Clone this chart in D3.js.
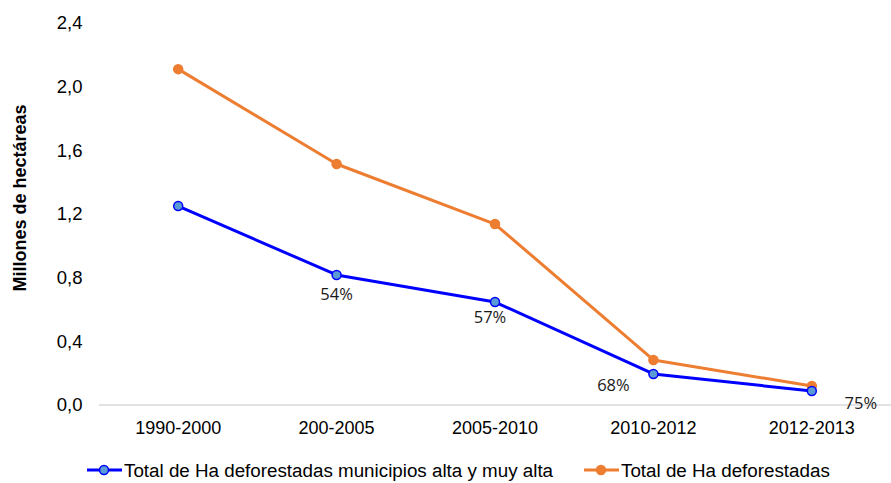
<!DOCTYPE html>
<html><head><meta charset="utf-8">
<script src="https://cdn.jsdelivr.net/npm/d3@7"></script>
<style>body{margin:0;background:#fff}svg{display:block}</style>
</head><body>
<svg id="c" width="891" height="483"></svg>
<script>
const categories = ["1990-2000","200-2005","2005-2010","2010-2012","2012-2013"];
const seriesNames = ["Total de Ha deforestadas municipios alta y muy alta","Total de Ha deforestadas"];
const altaValues = [1.25, 0.817, 0.647, 0.195, 0.088];
const totalValues = [2.11, 1.514, 1.137, 0.283, 0.119];
const pctLabels = ["", "54%", "57%", "68%", "75%"];
const yTicks = [0, 0.4, 0.8, 1.2, 1.6, 2.0, 2.4];

const svg = d3.select("#c");
const m = {l:99, r:891, t:23, b:405};
const x = d3.scaleBand().domain(categories).range([m.l, m.r]);
const y = d3.scaleLinear().domain([0, 2.4]).range([m.b, m.t]);
const fmt = d => d3.format(".1f")(d).replace(".", ",");
const FF = "Liberation Sans, Arial, sans-serif";

// y tick labels
svg.append("g").selectAll("text").data(yTicks).join("text")
  .attr("x", 82.5).attr("y", d => y(d)).attr("dy", "0.35em")
  .attr("text-anchor", "end").attr("font-family", FF)
  .attr("font-size", 18.5).attr("fill", "#000").text(fmt);

// baseline
svg.append("line").attr("x1", m.l).attr("x2", m.r).attr("y1", y(0)).attr("y2", y(0))
  .attr("stroke", "#d9d9d9").attr("stroke-width", 1.5);

// x axis labels
svg.append("g").selectAll("text").data(categories).join("text")
  .attr("x", d => x(d) + x.bandwidth()/2).attr("y", 428).attr("dy", "0.35em")
  .attr("text-anchor", "middle").attr("font-family", FF)
  .attr("font-size", 18).attr("fill", "#000").text(d => d);

// y title
svg.append("text").attr("transform", "translate(20,198) rotate(-90)")
  .attr("text-anchor", "middle").attr("dy", "0.35em").attr("font-family", FF)
  .attr("font-size", 18).attr("font-weight", "bold").text("Millones de hectáreas");

const cx = d => x(d) + x.bandwidth()/2;
const line = d3.line().x(d => cx(d.c)).y(d => y(d.v));

function drawSeries(vals, color, fill) {
  const data = categories.map((c, i) => ({c, v: vals[i]}));
  svg.append("path").datum(data).attr("d", line).attr("fill", "none")
    .attr("stroke", color).attr("stroke-width", 3).attr("stroke-linejoin", "round");
  svg.append("g").selectAll("circle").data(data).join("circle")
    .attr("cx", d => cx(d.c)).attr("cy", d => y(d.v)).attr("r", 4.5)
    .attr("fill", fill).attr("stroke", color).attr("stroke-width", 1.5);
}
drawSeries(totalValues, "#ED7D31", "#ED7D31");
drawSeries(altaValues, "#0000FF", "#5B9BD5");

// percentage labels
const lblOff = [[0,0],[0,19],[-5,15],[-40,11],[49,12]];
svg.append("g").selectAll("text").data(categories.map((c,i)=>({c,i}))).join("text")
  .attr("x", d => cx(d.c) + lblOff[d.i][0])
  .attr("y", d => y(altaValues[d.i]) + lblOff[d.i][1])
  .attr("dy", "0.35em").attr("text-anchor", "middle")
  .attr("font-family", "Open Sans, sans-serif").attr("font-size", 16.5).attr("fill", "#1a1a1a")
  .text(d => pctLabels[d.i]);

// legend
const legend = [
  {name: seriesNames[0], color: "#0000FF", fill: "#5B9BD5", x: 87},
  {name: seriesNames[1], color: "#ED7D31", fill: "#ED7D31", x: 584}
];
const lg = svg.append("g").selectAll("g").data(legend).join("g")
  .attr("transform", d => `translate(${d.x},470)`);
lg.append("line").attr("x1", 0).attr("x2", 35).attr("stroke", d => d.color).attr("stroke-width", 3);
lg.append("circle").attr("cx", 17).attr("r", 4.5).attr("fill", d => d.fill)
  .attr("stroke", d => d.color).attr("stroke-width", 1.5);
lg.append("text").attr("x", 37).attr("dy", "0.35em")
  .attr("font-family", FF).attr("font-size", 18.8)
  .text(d => d.name);
</script>
</body></html>
